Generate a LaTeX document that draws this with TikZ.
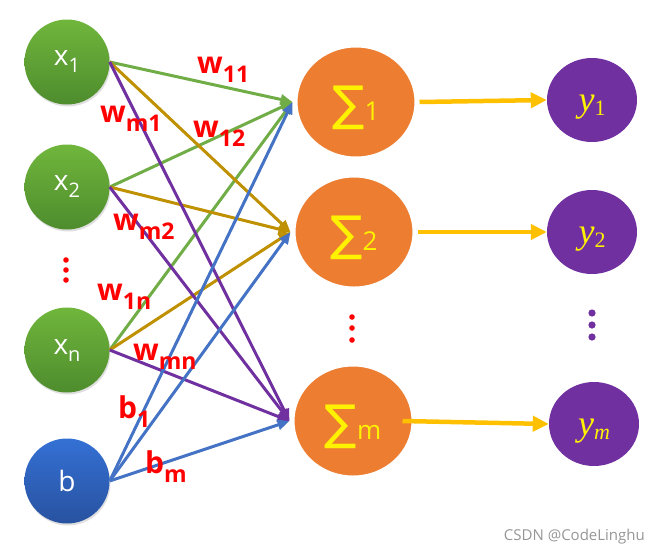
\documentclass[tikz,border=0pt]{standalone}
\usepackage{fontspec}
\setmainfont{Open Sans}
\newfontfamily\djvfont{DejaVu Sans}
\newfontfamily\serfont{Liberation Serif}
\usetikzlibrary{arrows.meta,shapes.geometric,shadows}
\definecolor{gtop}{RGB}{112,182,60}
\definecolor{gbot}{RGB}{78,140,45}
\definecolor{btop}{RGB}{52,112,212}
\definecolor{bbot}{RGB}{40,82,160}
\definecolor{sorange}{RGB}{237,125,49}
\definecolor{ypurple}{RGB}{112,48,160}
\definecolor{ayellow}{RGB}{255,192,0}
\definecolor{cgreen}{RGB}{112,173,71}
\definecolor{cgold}{RGB}{191,144,0}
\definecolor{cpurple}{RGB}{112,48,160}
\definecolor{cblue}{RGB}{68,114,196}
\definecolor{wmgray}{RGB}{150,150,150}
\newcommand\isub[1]{\raisebox{-7pt}{\fontsize{20}{20}\selectfont #1}}
\newcommand\wl[2]{#1\raisebox{-9pt}{\fontsize{23}{23}\selectfont #2}}
\newcommand\sig[1]{\smash{\raisebox{-18pt}{{\djvfont\fontsize{48}{48}\selectfont ∑}{\fontsize{26}{26}\selectfont #1}}}}
\newcommand\yv[1]{\smash{\raisebox{-11pt}{{\serfont\itshape\fontsize{36}{36}\selectfont y}\raisebox{-4pt}{\serfont\fontsize{22}{22}\selectfont #1}}}}
\begin{document}
\begin{tikzpicture}[x=1pt,y=-1pt,
  inode/.style={circle,minimum size=85pt,inner sep=0pt,text=white,
    font=\fontsize{28}{28}\selectfont,
    drop shadow={opacity=0.25,shadow xshift=1pt,shadow yshift=-2pt}},
  gball/.style={inode,top color=gtop,bottom color=gbot},
  bball/.style={inode,top color=btop,bottom color=bbot},
  sumnode/.style={ellipse,minimum width=122pt,minimum height=114pt,inner sep=0pt,
    fill=sorange,draw=white,line width=5pt,text=yellow,
    drop shadow={opacity=0.2,shadow xshift=1pt,shadow yshift=-2pt}},
  outnode/.style={ellipse,minimum width=90pt,minimum height=84pt,inner sep=0pt,
    fill=ypurple,text=yellow},
  wlabel/.style={anchor=base west,inner sep=0pt,text=red,
    font=\bfseries\fontsize{30}{30}\selectfont},
  conn/.style={line width=3pt,-{Triangle[length=12pt,width=10pt]}},
  outarrow/.style={line width=4.5pt,draw=ayellow,-{Triangle[length=16pt,width=15pt]}},
]
\useasboundingbox (0,0) rectangle (660,552);

% input nodes
\node[gball] (x1) at (67,62) {x\isub{1}};
\node[gball] (x2) at (67,187) {x\isub{2}};
\node[gball] (xn) at (67,350) {x\isub{n}};
\node[bball] (b) at (67,481) {b};

% sum nodes
\node[sumnode] (s1) at (356,102) {\sig{1}};
\node[sumnode] (s2) at (354,232) {\sig{2}};
\node[sumnode] (sm) at (353,421) {\sig{m}};

% output nodes
\node[outnode] (y1) at (592,100) {\yv{1}};
\node[outnode] (y2) at (592,232) {\yv{2}};
\node[outnode] (ym) at (594,424) {\yv{\itshape m}};

% vertical dots
\foreach \yy in {260,270,280} \fill[red] (66,\yy) circle (2.8pt);
\foreach \yy in {317,328,340} \fill[red] (352,\yy) circle (2.8pt);
\foreach \yy in {313,325,337} \fill[ypurple] (592,\yy) circle (3.6pt);

% connectors
\foreach \src in {x1,x2,xn} \draw[conn,draw=cgreen] (\src.east) -- (s1.west);
\foreach \src in {x1,x2,xn} \draw[conn,draw=cgold] (\src.east) -- (s2.west);
\foreach \src in {x1,x2,xn} \draw[conn,draw=cpurple] (\src.east) -- (sm.west);
\foreach \dst in {s1,s2,sm} \draw[conn,draw=cblue] (b.east) -- (\dst.west);

\draw[outarrow] (s1.east) -- (y1.west);
\draw[outarrow] (s2.east) -- (y2.west);
\draw[outarrow] ([xshift=-14pt]sm.east) -- (ym.west);

% labels
\node[wlabel] (lw11) at (197,73) {\wl{w}{11}};
\node[wlabel] (lwm1) at (100,122) {\wl{w}{m1}};
\node[wlabel] (lw12) at (193,137) {\wl{w}{12}};
\node[wlabel] (lwm2) at (113,230) {\wl{w}{m2}};
\node[wlabel] (lw1n) at (97,300) {\wl{w}{1n}};
\node[wlabel] (lwmn) at (133,360) {\wl{w}{mn}};
\node[wlabel] (lb1) at (118,418) {\wl{b}{1}};
\node[wlabel] (lbm) at (145,473) {\wl{b}{m}};

\node[anchor=base east,inner sep=0pt,text=wmgray,font=\fontsize{15}{15}\selectfont] (wm) at (645,540) {CSDN @CodeLinghu};
\end{tikzpicture}
\end{document}
